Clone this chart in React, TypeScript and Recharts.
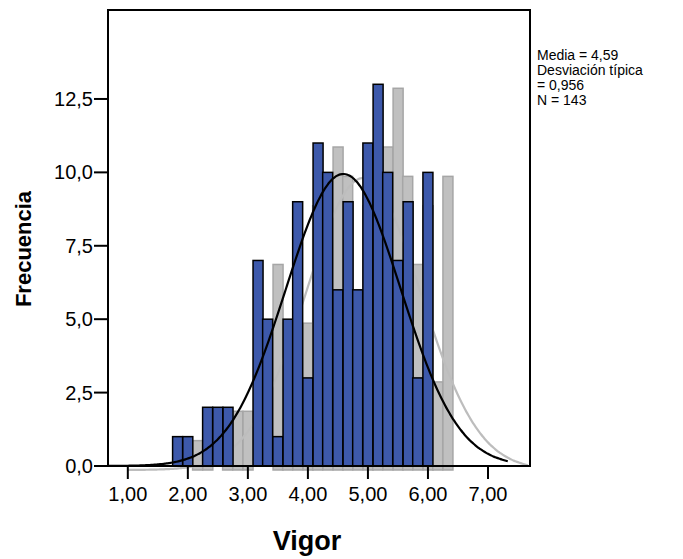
import React from 'react';
import { ComposedChart, Bar, Line, XAxis, YAxis, ReferenceArea, Label } from 'recharts';

// bin midpoints (width 1/6) and counts
const binMids = [1.83, 2.0, 2.17, 2.33, 2.5, 2.67, 2.83, 3.0, 3.17, 3.33, 3.5, 3.67, 3.83,
  4.0, 4.17, 4.33, 4.5, 4.67, 4.83, 5.0, 5.17, 5.33, 5.5, 5.67, 5.83, 6.0];
const counts = [1, 1, 0, 2, 2, 2, 0, 0, 7, 5, 1, 5, 9, 3, 11, 10, 6, 9, 6, 11, 13, 10, 7, 9, 3, 10];

const xTicks = [1, 2, 3, 4, 5, 6, 7];
const yTicks = [0, 2.5, 5, 7.5, 10, 12.5];
const statLines = ['Media = 4,59', 'Desviación típica', '= 0,956', 'N = 143'];

const MEAN = 4.59;
const SD = 0.956;
const N = 143;
const BIN_W = 1 / 6;

const X_MIN = 0.67;
const X_MAX = 7.7;
const Y_MAX = 15.53;
const SHADOW_DX = 1 / 3; // shadow drawn 2 bins to the right
const CURVE_END = 7.34;

const CHART_W = 683;
const MARGIN = { top: 10, right: 153, bottom: 0, left: 0 };
const Y_AXIS_W = 108;
const PLOT_W = CHART_W - MARGIN.left - MARGIN.right - Y_AXIS_W;
const BAR_PX = (PLOT_W * BIN_W) / (X_MAX - X_MIN);

const FONT = '"Liberation Sans", Arial, sans-serif';

const histData = binMids.map((x, i) => ({ x, count: counts[i] }));

// fitted normal curve, scaled to the histogram counts
const curveData: { x: number; y: number }[] = [];
for (let x = X_MIN; x <= CURVE_END + 1e-9; x += 0.03) {
  const z = (x - MEAN) / SD;
  curveData.push({ x, y: (N * BIN_W) / (SD * Math.sqrt(2 * Math.PI)) * Math.exp(-0.5 * z * z) });
}

const fmt = (d: number) => (v: number) => v.toFixed(d).replace('.', ',');

const binShape = (fill: string, stroke: string) => (p: any) => {
  if (!p.height || p.height <= 0) return <g />;
  const cx = p.x + (p.width || 0) / 2;
  return (
    <rect x={cx - BAR_PX / 2} y={p.y} width={BAR_PX} height={p.height}
      fill={fill} stroke={stroke} strokeWidth={1.5} />
  );
};

const YTitle = () => (
  <text x={31} y={249} transform="rotate(-90, 31, 249)" textAnchor="middle"
    fontFamily={FONT} fontWeight="bold" fontSize={22} fill="#000">Frecuencia</text>
);

const XTitle = () => (
  <text x={307} y={550} textAnchor="middle" fontFamily={FONT} fontWeight="bold" fontSize={27} fill="#000">Vigor</text>
);

export default function App() {
  const tick = { fill: '#000', fontSize: 20, fontFamily: FONT };
  const line = { stroke: '#000', strokeWidth: 2 };
  return (
    <div style={{ position: 'absolute', left: 0, top: 0, width: 683, height: 559, background: '#fff' }}>
      <style>{'.shadow-layer { transform: translate(0px, 4px); }'}</style>
      <ComposedChart width={CHART_W} height={559} data={histData} margin={MARGIN}>
        <XAxis xAxisId="main" type="number" dataKey="x" domain={[X_MIN, X_MAX]} ticks={xTicks}
          tickFormatter={fmt(2)} tick={tick} tickLine={line} axisLine={line}
          tickSize={13} tickMargin={8} height={93} interval={0}>
          <Label content={<XTitle />} />
        </XAxis>
        <XAxis xAxisId="shadow" type="number" dataKey="x" hide
          domain={[X_MIN - SHADOW_DX, X_MAX - SHADOW_DX]} />
        <YAxis type="number" domain={[0, Y_MAX]} ticks={yTicks} tickFormatter={fmt(1)}
          tick={tick} tickLine={line} axisLine={line} tickSize={14} tickMargin={1} width={Y_AXIS_W} interval={0}>
          <Label content={<YTitle />} />
        </YAxis>
        <ReferenceArea xAxisId="main" x1={X_MIN} x2={X_MAX} y1={0} y2={Y_MAX}
          fill="none" stroke="#000" strokeWidth={2} fillOpacity={0} />
        <Bar xAxisId="shadow" dataKey="count" barSize={10} shape={binShape('#c0c0c0', '#a6a6a6')}
          className="shadow-layer" isAnimationActive={false} zIndex={200} />
        <Line xAxisId="shadow" data={curveData} dataKey="y" type="monotone" dot={false}
          stroke="#bdbdbd" strokeWidth={2.2} className="shadow-layer" isAnimationActive={false} zIndex={250} />
        <Bar xAxisId="main" dataKey="count" barSize={10} shape={binShape('#3d59ab', '#000')}
          isAnimationActive={false} zIndex={300} />
        <Line xAxisId="main" data={curveData} dataKey="y" type="monotone" dot={false}
          stroke="#000" strokeWidth={2.2} isAnimationActive={false} zIndex={400} />
      </ComposedChart>
      <div style={{ position: 'absolute', left: 537, top: 47.6, fontFamily: FONT, fontSize: 14,
        lineHeight: '15px', color: '#000', whiteSpace: 'nowrap' }}>
        {statLines.map((s) => <div key={s}>{s}</div>)}
      </div>
    </div>
  );
}
